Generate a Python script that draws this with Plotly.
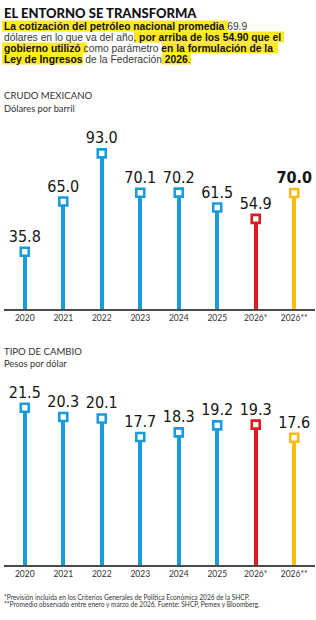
import plotly.graph_objects as go

# ---------------- data ----------------
categories = ["2020", "2021", "2022", "2023", "2024", "2025", "2026*", "2026**"]
crudo = [35.8, 65.0, 93.0, 70.1, 70.2, 61.5, 54.9, 70.0]
tipo_cambio = [21.5, 20.3, 20.1, 17.7, 18.3, 19.2, 19.3, 17.6]

title_text = "EL ENTORNO SE TRANSFORMA"
# subtitle lines, each a list of (text, bold)
subtitle_lines = [
    [("La cotización del petróleo nacional promedia", True), (" 69.9", False)],
    [("dólares en lo que va del año, ", False), ("por arriba de los 54.90 que el", True)],
    [("gobierno utilizó", True), (" como parámetro ", False), ("en la formulación de la", True)],
    [("Ley de Ingresos", True), (" de la Federación ", False), ("2026", True), (".", False)],
]
chart1_title = "CRUDO MEXICANO"
chart1_unit = "Dólares por barril"
chart2_title = "TIPO DE CAMBIO"
chart2_unit = "Pesos por dólar"
footnotes = [
    "*Previsión incluida en los Criterios Generales de Política Económica 2026 de la SHCP.",
    "**Promedio observado entre enero y marzo de 2026. Fuente: SHCP, Pemex y Bloomberg.",
]

# ---------------- layout helpers ----------------
W, H = 316, 620
def px(x):
    return x / W
def py(y):
    return 1 - y / H

BLUE = "#1a9bdb"
RED = "#dd1b22"
YELLOW = "#f9bb14"
HL = "#ffea1f"
colors = [BLUE] * 6 + [RED, YELLOW]

NARROW = "DejaVu Sans Condensed, Liberation Sans Narrow, sans-serif"
SANS = "Lato, Roboto, sans-serif"
BODY = "Liberation Sans, Arimo, Arial, sans-serif"

fig = go.Figure()

def add_chart(values, xa, ya, bold_last=True):
    fig.add_trace(go.Bar(
        x=categories, y=values, width=0.1,
        marker=dict(color=colors, line=dict(width=0)),
        xaxis=xa, yaxis=ya, hoverinfo="skip", showlegend=False,
    ))
    texts = [f"{v:.1f}" for v in values]
    if bold_last:
        texts[-1] = f"<b>{texts[-1]}</b>"
    fig.add_trace(go.Scatter(
        x=categories, y=values, mode="markers+text",
        text=texts, textposition="top center",
        textfont=dict(family=NARROW, size=16, color="#151515"),
        marker=dict(symbol="square", size=8, color="white",
                    line=dict(color=colors, width=2.6)),
        xaxis=xa, yaxis=ya, showlegend=False, cliponaxis=False,
    ))

add_chart(crudo, "x", "y", bold_last=True)
add_chart(tipo_cambio, "x2", "y2", bold_last=False)

xcommon = dict(type="category", range=[-0.54, 7.54], domain=[px(4), px(315)],
               showline=True, linecolor="#4a4a4a", linewidth=1.5,
               showgrid=False, zeroline=False, ticks="",
               tickfont=dict(family=SANS, size=8.5, color="#333"),
               fixedrange=True)
ycommon = dict(visible=False, showgrid=False, zeroline=False, fixedrange=True)

fig.update_layout(
    width=W, height=H,
    margin=dict(l=0, r=0, t=0, b=0),
    paper_bgcolor="white", plot_bgcolor="rgba(0,0,0,0)",
    xaxis=dict(xcommon, anchor="y"),
    yaxis=dict(ycommon, domain=[py(309), py(130)], range=[2.5, 106.6]),
    xaxis2=dict(xcommon, anchor="y2"),
    yaxis2=dict(ycommon, domain=[py(565), py(390)], range=[1.07, 23.8]),
    bargap=0,
)

annotations = []
shapes = []

# title
annotations.append(dict(text=title_text, x=px(2), y=py(13),
                        xref="paper", yref="paper", xanchor="left", yanchor="middle",
                        showarrow=False,
                        font=dict(family="Lato, DejaVu Sans Condensed, sans-serif",
                                  size=13, weight=900, color="#111")))

# subtitle highlight boxes (layout)
line_box = [(20.5, 31.5), (31.5, 42.5), (42.5, 53.5), (53.5, 64.5)]
hl_ranges = {0: [(2, 228)], 1: [(134, 284)], 2: [(2, 87), (162, 278)], 3: [(2, 83), (162, 191)]}
for ln, ranges in hl_ranges.items():
    for x0, x1 in ranges:
        shapes.append(dict(type="rect", xref="paper", yref="paper", layer="below",
                           x0=px(x0), x1=px(x1), y0=py(line_box[ln][1]), y1=py(line_box[ln][0]),
                           fillcolor=HL, line=dict(width=0)))
for ln, segs in enumerate(subtitle_lines):
    html = "".join(f"<b>{t}</b>" if b else f"<span style='color:#3a3a3a'>{t}</span>"
                   for t, b in segs)
    yc = (line_box[ln][0] + line_box[ln][1]) / 2
    annotations.append(dict(
        text=html, x=px(2.5), y=py(yc + 0.3),
        xref="paper", yref="paper", xanchor="left", yanchor="middle",
        showarrow=False, borderpad=0,
        font=dict(family=BODY, size=10.3, color="#111")))

# chart titles
for txt, y, size in [(chart1_title, 96, 9.6), (chart1_unit, 108.5, 9.3),
                     (chart2_title, 351, 9.6), (chart2_unit, 363.5, 9.3)]:
    annotations.append(dict(text=txt, x=px(2), y=py(y), xref="paper", yref="paper",
                            xanchor="left", yanchor="middle", showarrow=False,
                            font=dict(family=SANS, size=size, color="#333")))

# footnotes
for txt, y in zip(footnotes, [596.5, 604.5]):
    annotations.append(dict(text=txt, x=px(2), y=py(y), xref="paper", yref="paper",
                            xanchor="left", yanchor="middle", showarrow=False,
                            font=dict(family=SANS, size=6.6, color="#333")))

fig.update_layout(annotations=annotations, shapes=shapes)
fig.write_html("out.html")
